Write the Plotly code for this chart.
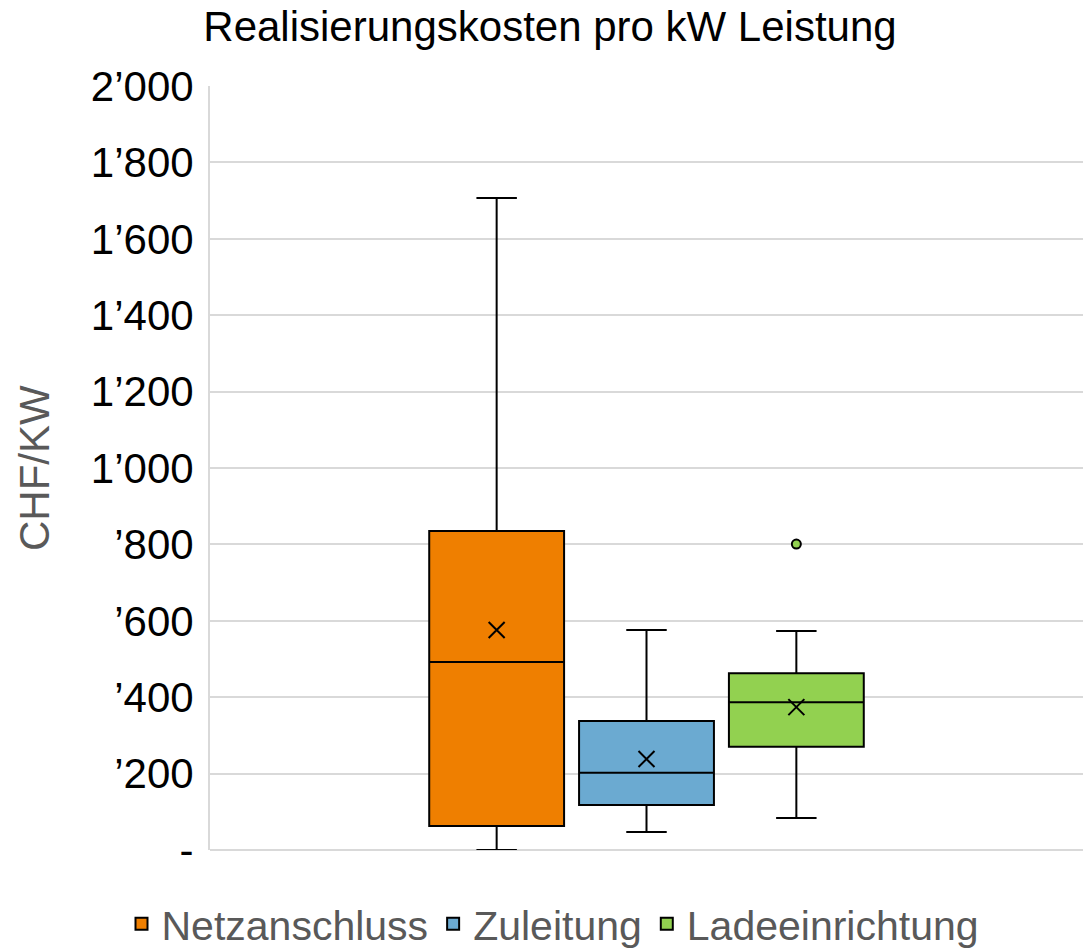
import plotly.graph_objects as go

# ---- data ----
series = ["Netzanschluss", "Zuleitung", "Ladeeinrichtung"]
q1_vals = [63, 118, 270]
median_vals = [492, 202, 387]
q3_vals = [835, 338, 463]
lower_vals = [0, 47, 84]
upper_vals = [1707, 576, 573]
mean_vals = [576, 238, 374]
outlier_series = ["Ladeeinrichtung"]
outlier_vals = [801]

tick_values = [0, 200, 400, 600, 800, 1000, 1200, 1400, 1600, 1800, 2000]
tick_labels = ["-", "\u2019200", "\u2019400", "\u2019600", "\u2019800", "1\u2019000",
               "1\u2019200", "1\u2019400", "1\u2019600", "1\u2019800", "2\u2019000"]

colors = ["#EF7F00", "#6BAAD1", "#92D150"]
FONT = "Liberation Sans, Arial, sans-serif"

fig = go.Figure()
for i, name in enumerate(series):
    fig.add_trace(go.Box(
        x=[i], q1=[q1_vals[i]], median=[median_vals[i]], q3=[q3_vals[i]],
        lowerfence=[lower_vals[i]], upperfence=[upper_vals[i]],
        boxmean=False,
        name=name, fillcolor=colors[i], line=dict(color="black", width=2),
        width=0.9, whiskerwidth=0.3, boxpoints=False, showlegend=True,
    ))

# mean markers
fig.add_trace(go.Scatter(
    x=list(range(len(series))), y=mean_vals, mode="markers",
    marker=dict(symbol="x-thin", size=16, line=dict(color="black", width=2)),
    showlegend=False, hoverinfo="skip",
))

# outliers
fig.add_trace(go.Scatter(
    x=[series.index(s) for s in outlier_series], y=outlier_vals, mode="markers",
    marker=dict(symbol="circle", size=9, color=colors[2], line=dict(color="black", width=2)),
    showlegend=False, hoverinfo="skip",
))

fig.update_layout(
    width=1084, height=950,
    margin=dict(l=210, r=1, t=86, b=100),
    paper_bgcolor="white", plot_bgcolor="white",
    font=dict(family=FONT, size=42, color="black"),
    title=dict(text="Realisierungskosten pro kW Leistung", x=550 / 1084, xanchor="center",
               y=1 - 26 / 950, yanchor="middle", yref="container",
               font=dict(family=FONT, size=42, color="black")),
    legend=dict(orientation="h", xref="container", x=553 / 1084, xanchor="center",
                yref="container", y=1 - 924 / 950, yanchor="middle",
                font=dict(family=FONT, size=41, color="#595959")),
    xaxis=dict(range=[-1.913, 3.913], showticklabels=False, showgrid=False,
               zeroline=False, showline=False),
    yaxis=dict(range=[0, 2000], tickvals=tick_values, ticktext=tick_labels,
               showgrid=True, gridcolor="#D9D9D9", gridwidth=2,
               zeroline=True, zerolinecolor="#D9D9D9", zerolinewidth=2,
               showline=True, linecolor="#D9D9D9", linewidth=2,
               ticklabelstandoff=6, automargin=False,
               tickfont=dict(family=FONT, size=42, color="black")),
    annotations=[dict(text="CHF/KW", xref="paper", yref="paper", x=0, y=0.5,
                      xshift=-176, textangle=-90, showarrow=False,
                      xanchor="center", yanchor="middle",
                      font=dict(family=FONT, size=42, color="#595959"))],
)

fig.write_html("out.html", config={"displayModeBar": False},
               post_script="document.body.style.margin='0';document.body.style.overflow='hidden';")
